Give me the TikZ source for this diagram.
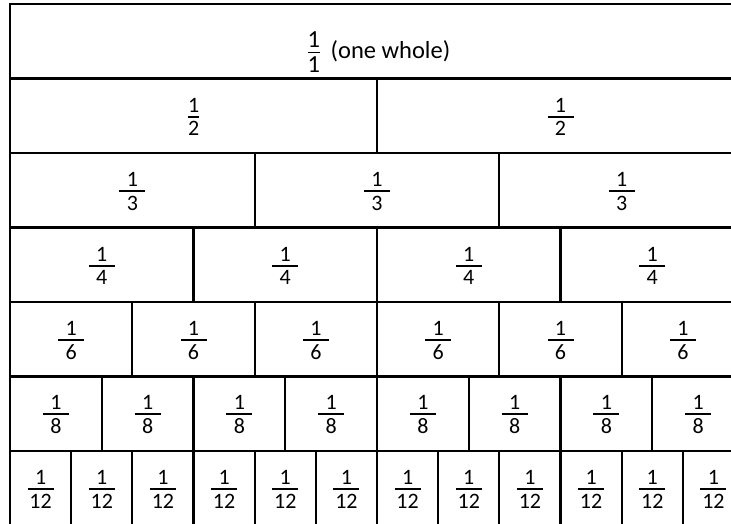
\documentclass[tikz,border=0pt]{standalone}
\usepackage{amsmath}
\usepackage{fontspec}
\setmainfont{Carlito}
\tikzset{
  cell/.style={draw, line width=1.6pt, minimum height=55.875pt, inner sep=0pt},
  fraclabel/.style={inner sep=0pt, font=\fontsize{16.5}{19}\selectfont},
  wholelabel/.style={inner sep=0pt, font=\fontsize{18.4}{21}\selectfont},
}
% unit fraction 1/#2, rule at least #1 wide
\newcommand{\unitfrac}[2][19.5pt]{%
  \setbox0\hbox{#2}%
  \dimen0=#1\relax
  \ifdim\dimexpr\wd0+2.5pt\relax>\dimen0 \dimen0=\dimexpr\wd0+2.5pt\relax\fi
  $\vcenter{\offinterlineskip\halign{\hbox to \dimen0{\hfil##\hfil}\cr
    1\cr\noalign{\kern2.8pt\hrule height 1.3pt\kern2.8pt}#2\cr}}$}

\begin{document}
\begin{tikzpicture}[x=0.75pt, y=-0.75pt]
  \useasboundingbox (0,0) rectangle (731,524);
  \fill[white] (0,0) rectangle (731,524);
  \clip (0,0) rectangle (731,524);
  % top row: the whole
  \node[cell, minimum width=550.5pt] (whole) at (377,41.25) {};
  \node[wholelabel] (whole-label) at ([xshift=1.5pt, yshift=-8.5pt]whole.center)
    {\unitfrac[23pt]{1}\hspace{8pt}(one whole)};
  % rows of equal parts
  \foreach \n [count=\r] in {2,3,4,6,8,12} {
    \foreach \k in {1,...,\n} {
      \node[cell, minimum width={550.5pt/\n}] (part-\n-\k)
        at ({10+734*(\k-0.5)/\n}, {41.25+74.5*\r}) {};
      \node[fraclabel] (frac-\n-\k) at ([yshift=-0.8pt]part-\n-\k.center) {\unitfrac{\n}};
    }
  }
\end{tikzpicture}
\end{document}
